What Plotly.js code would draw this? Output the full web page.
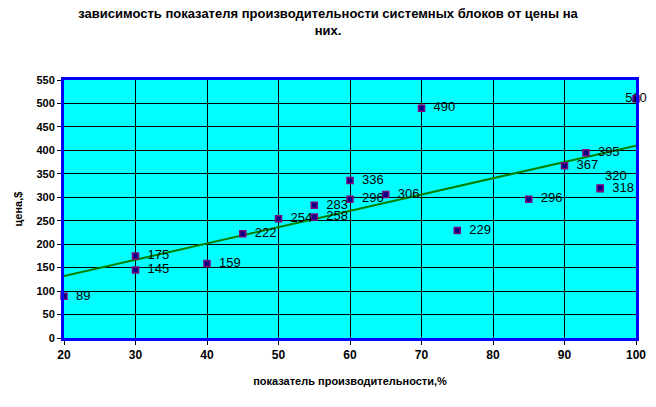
<!DOCTYPE html>
<html><head><meta charset="utf-8">
<script src="https://cdn.plot.ly/plotly-3.0.1.min.js"></script>
<style>body{margin:0;background:#fff}#c{width:656px;height:407px}</style>
</head><body><div id="c"></div>
<script>
const perf = [20,30,30,40,45,50,55,55,60,60,65,70,75,85,90,93,95,95,100];
const price = [89,175,145,159,222,254,283,258,336,296,306,490,229,296,367,395,318,320,510];
const labelPos = ['middle right','middle right','middle right','middle right','middle right','middle right','middle right','middle right','middle right','middle right','middle right','middle right','middle right','middle right','middle right','middle right','middle right','top right','middle center'];
const trendX = [20,100];
const trendY = [132,410];
const xTicks = [20,30,40,50,60,70,80,90,100];
const yTicks = [0,50,100,150,200,250,300,350,400,450,500,550];

const labels = price.map((v,i)=> labelPos[i]==='middle right' ? '  '+v : String(v));
const data = [
 {x: trendX, y: trendY, mode:'lines', line:{color:'#008000', width:2}, hoverinfo:'skip', showlegend:false},
 {x: perf, y: price, mode:'markers+text', text: labels, textposition: labelPos,
  textfont:{family:'Liberation Sans, Arial', size:13, color:'#000'},
  marker:{symbol:'square', size:6, color:'#000080', line:{color:'#800080', width:1.5}},
  cliponaxis:false, showlegend:false}
];
const layout = {
 width:656, height:407,
 margin:{l:64, r:20, t:80, b:69},
 paper_bgcolor:'#fff', plot_bgcolor:'#00FFFF',
 title:{text:'зависимость показателя производительности системных блоков от цены на<br>них.',
  font:{family:'Liberation Sans, Arial', size:13, color:'#000', weight:'bold'}, x:0.5, xanchor:'center', y:0.955, yanchor:'top'},
 xaxis:{range:[20,100], tickvals:xTicks, ticktext:xTicks.map(String), showgrid:true, gridcolor:'#000', gridwidth:1,
  showline:true, linecolor:'#0000FF', linewidth:3, mirror:true, zeroline:false,
  ticks:'outside', ticklen:4, tickcolor:'#000',
  tickfont:{family:'Liberation Sans Narrow, Liberation Sans, Arial', size:12, color:'#000', weight:'bold'},
  title:{text:'показатель производительности,%', font:{family:'Liberation Sans, Arial', size:11, color:'#000', weight:'bold'}, standoff:16}},
 yaxis:{range:[0,550], tickvals:yTicks, ticktext:yTicks.map(String), showgrid:true, gridcolor:'#000', gridwidth:1,
  showline:true, linecolor:'#0000FF', linewidth:3, mirror:true, zeroline:false,
  ticks:'outside', ticklen:4, tickcolor:'#000',
  tickfont:{family:'Liberation Sans, Arial', size:11, color:'#000', weight:'bold'},
  title:{text:'цена,$', font:{family:'Liberation Sans, Arial', size:11, color:'#000', weight:'bold'}, standoff:12}}
};
Plotly.newPlot('c', data, layout, {displayModeBar:false, staticPlot:true});
</script></body></html>
